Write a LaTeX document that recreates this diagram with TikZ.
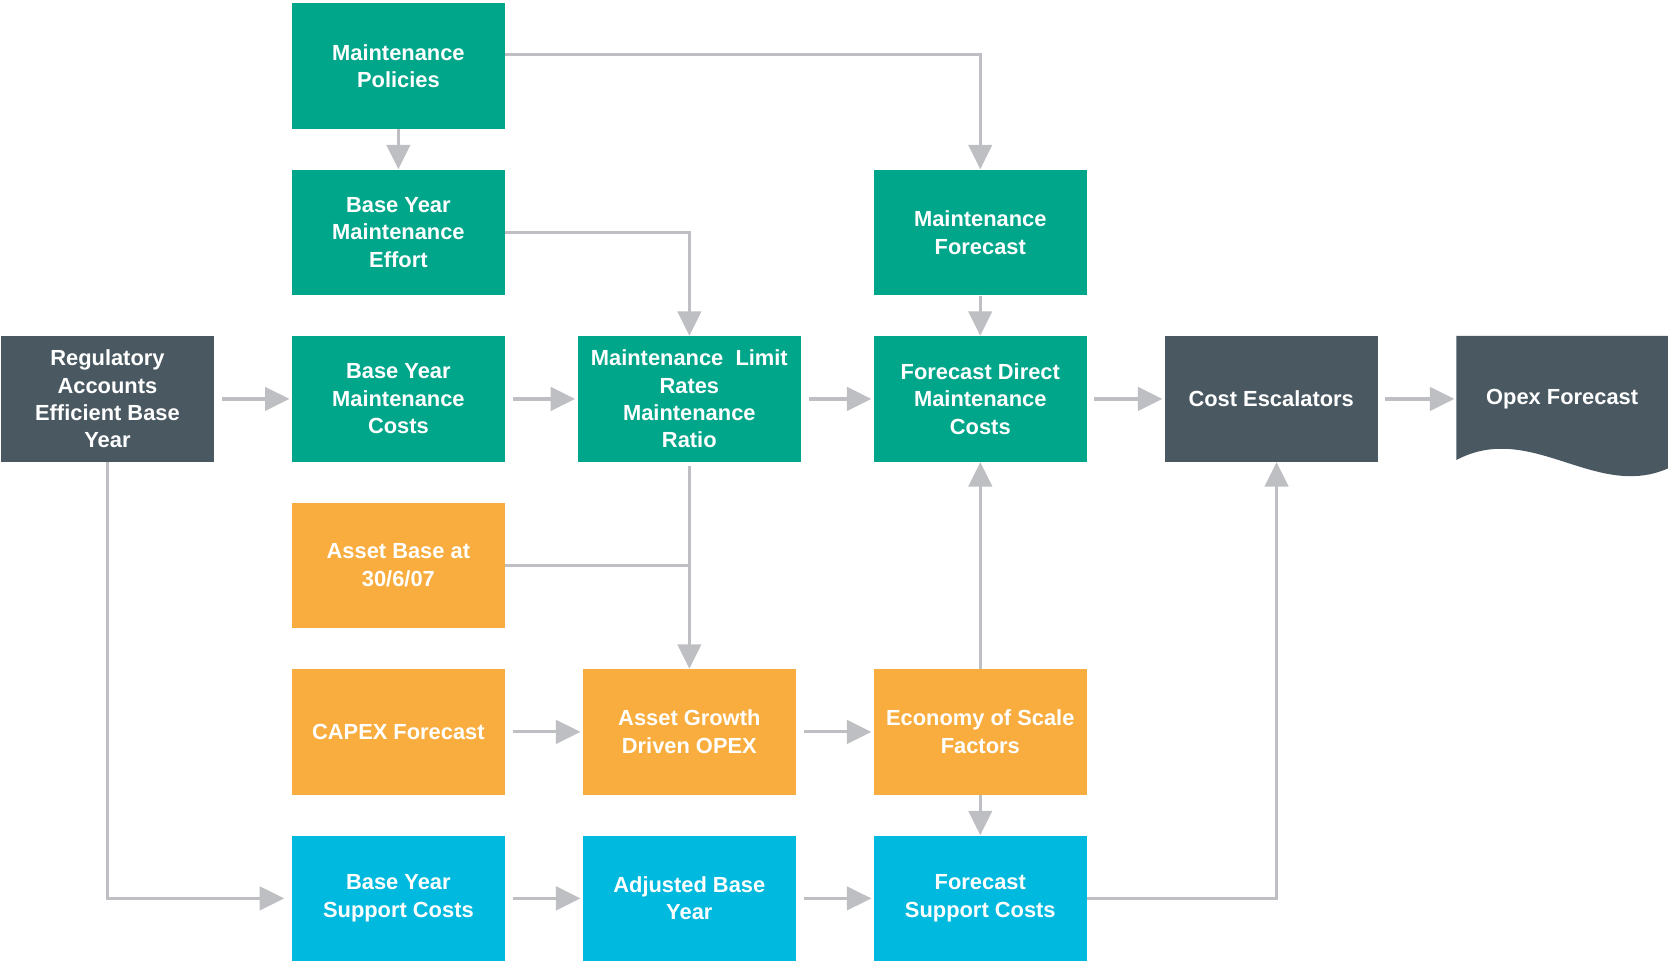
\documentclass[tikz,border=0pt]{standalone}
\usepackage{fontspec}
\setmainfont{Liberation Sans}
\usetikzlibrary{positioning,arrows.meta,calc,backgrounds}
\definecolor{maintgreen}{RGB}{0,166,138}
\definecolor{slategrey}{RGB}{74,88,98}
\definecolor{assetorange}{RGB}{249,173,62}
\definecolor{supportblue}{RGB}{0,185,222}
\definecolor{arrowgrey}{RGB}{190,191,195}
\tikzset{
    box/.style = {
        minimum width = 4cm,
        minimum height = 2.36cm,
        inner sep = 0pt,
        align = center,
        text = white,
        font = \fontsize{11.7}{14.7}\selectfont\bfseries,
        },
    maint/.style = {
        box,
        fill = maintgreen,
        },
    asset/.style = {
        box,
        fill = assetorange,
        },
    support/.style = {
        box,
        fill = supportblue,
        },
    summary/.style = {
        box,
        fill = slategrey,
        },
    link/.style = {
        draw = arrowgrey,
        line width = 1.7pt,
        },
    flow/.style = {
        link,
        -{Triangle[width=0.44cm, length=0.46cm]},
        },
    gap/.style = {
        shorten < = 0.14cm,
        shorten > = 0.04cm,
        },
}
\begin{document}
\begin{tikzpicture}[node distance = 3.13cm and 5.47cm, on grid]
    \useasboundingbox (0,0) rectangle (31.36,-18.06);

    % middle row
    \node[summary] (reg) at (2.02,-7.5) {Regulatory\\Accounts\\Efficient Base\\Year};
    \node[maint, right=of reg] (bymc) {Base Year\\Maintenance\\Costs};
    \node[maint, right=of bymc, minimum width=4.2cm] (ratio) {Maintenance~~Limit\\Rates\\Maintenance\\Ratio};
    \node[maint, right=of ratio] (fdmc) {Forecast Direct\\Maintenance\\Costs};
    \node[summary, right=of fdmc] (esc) {Cost Escalators};
    \node[box, right=of esc, minimum width=3.96cm] (opex) {\raisebox{-0.1cm}{Opex Forecast}};

    % upper rows
    \node[maint, above=of bymc] (effort) {Base Year\\Maintenance\\Effort};
    \node[maint, above=of effort] (policies) {Maintenance\\Policies};
    \node[maint, above=of fdmc] (mfc) {Maintenance\\Forecast};

    % lower rows
    \node[asset, below=of bymc] (assetbase) {Asset Base at\\30/6/07};
    \node[asset, below=of assetbase] (capex) {CAPEX Forecast};
    \node[asset, right=of capex] (agd) {Asset Growth\\Driven OPEX};
    \node[asset, right=of agd] (scale) {Economy of Scale\\Factors};
    \node[support, below=of capex] (bysc) {Base Year\\Support Costs};
    \node[support, right=of bysc] (aby) {Adjusted Base\\Year};
    \node[support, right=of aby] (fsc) {Forecast\\Support Costs};

    % document shape behind the opex text
    \begin{scope}[on background layer]
        \fill[slategrey] (opex.north west) -- (opex.north east) -- ([yshift=-0.12cm]opex.south east)
            .. controls ([shift={(-1.36,-0.72)}]opex.south east) and ([shift={(1.4,0.78)}]opex.south west)
            .. ([yshift=0.04cm]opex.south west) -- cycle;
    \end{scope}

    \draw[flow, gap] (reg) -- (bymc);
    \draw[flow, gap] (bymc) -- (ratio);
    \draw[flow, gap] (ratio) -- (fdmc);
    \draw[flow, gap] (fdmc) -- (esc);
    \draw[flow, gap] (esc) -- (opex);
    \draw[flow] (policies) -- (effort);
    \draw[flow] ([yshift=0.22cm]policies.east) -| (mfc);
    \draw[flow] (effort.east) -| (ratio);
    \draw[flow] (mfc) -- (fdmc);
    \draw[flow, shorten < = 0.08cm] (ratio) -- (agd);
    \draw[link] (assetbase.east) -- (assetbase.east -| agd.north);
    \draw[flow, gap] (capex) -- (agd);
    \draw[flow, gap] (agd) -- (scale);
    \draw[flow] (scale) -- (fdmc);
    \draw[flow] (scale) -- (fsc);
    \draw[flow, shorten > = 0.14cm] (reg) |- (bysc);
    \draw[flow, gap] (bysc) -- (aby);
    \draw[flow, gap] (aby) -- (fsc);
    \draw[flow] (fsc.east) -| ([xshift=0.1cm]esc.south);
\end{tikzpicture}
\end{document}
